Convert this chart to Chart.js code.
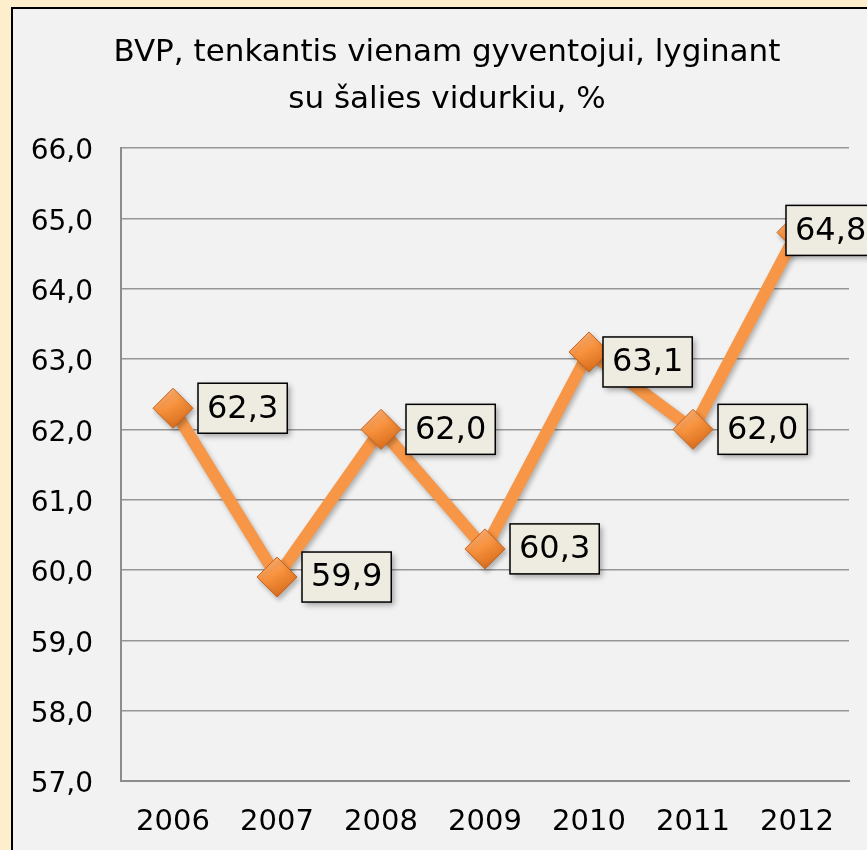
<!DOCTYPE html>
<html><head><meta charset="utf-8">
<script src="https://cdn.jsdelivr.net/npm/chart.js@4.4.1/dist/chart.umd.min.js"></script>
<style>
html,body{margin:0;padding:0;background:#FDEFCC;overflow:hidden;width:867px;height:850px;}
#frame{position:absolute;left:11px;top:7px;width:900px;height:860px;border:2px solid #000;background:#F2F2F2;}
#wrap{position:relative;width:900px;height:841px;}
</style></head><body>
<div id="frame"><div id="wrap"><canvas id="c"></canvas></div></div>
<script>
const titleLines = ['BVP, tenkantis vienam gyventojui, lyginant', 'su šalies vidurkiu, %'];
const years = ['2006', '2007', '2008', '2009', '2010', '2011', '2012'];
const values = [62.3, 59.9, 62.0, 60.3, 63.1, 62.0, 64.8];
const yTickLabels = ['57,0', '58,0', '59,0', '60,0', '61,0', '62,0', '63,0', '64,0', '65,0', '66,0'];
const yMin = 57, yMax = 66;
// label placement relative to its point (style only)
const labelDx = [25, 25, 25, 25, 14, 25, -11];
const labelDy = [0, 0, 0, 0, 10, 0, -2];

const FONT = "'DejaVu Sans', sans-serif";

const fmt = v => v.toFixed(1).replace('.', ',');

const titlePlugin = {
  id: 'twoLineTitle',
  afterDraw(chart) {
    const ctx = chart.ctx;
    ctx.save();
    ctx.font = "31px " + FONT;
    ctx.fillStyle = '#000';
    ctx.textAlign = 'center';
    ctx.textBaseline = 'middle';
    const cx = 434;
    titleLines.forEach((t, i) => ctx.fillText(t, cx, 44 + i * 47));
    ctx.restore();
  }
};

const shadowPlugin = {
  id: 'shadows',
  beforeDatasetsDraw(chart) {
    const ctx = chart.ctx;
    ctx.save();
    ctx.shadowColor = 'rgba(0,0,0,0.28)';
    ctx.shadowBlur = 5;
    ctx.shadowOffsetX = 2;
    ctx.shadowOffsetY = 3;
  },
  afterDatasetsDraw(chart) {
    chart.ctx.restore();
  }
};

const labelPlugin = {
  id: 'boxLabels',
  afterDatasetsDraw(chart) {
    const ctx = chart.ctx;
    const meta = chart.getDatasetMeta(0);
    ctx.save();
    ctx.font = "32px " + FONT;
    ctx.textBaseline = 'middle';
    ctx.textAlign = 'center';
    meta.data.forEach((pt, i) => {
      const txt = fmt(values[i]);
      const tw = ctx.measureText(txt).width;
      const w = tw + 18, h = 50;
      const left = pt.x + labelDx[i];
      const cy = pt.y + labelDy[i];
      const top = cy - h / 2;
      ctx.save();
      ctx.shadowColor = 'rgba(0,0,0,0.35)';
      ctx.shadowBlur = 6;
      ctx.shadowOffsetX = 3;
      ctx.shadowOffsetY = 3;
      ctx.fillStyle = '#EEECE1';
      ctx.fillRect(left, top, w, h);
      ctx.restore();
      ctx.lineWidth = 1.5;
      ctx.strokeStyle = '#000';
      ctx.strokeRect(left, top, w, h);
      ctx.fillStyle = '#000';
      ctx.fillText(txt, left + w / 2, cy + 1);
    });
    ctx.restore();
  }
};

function pointGrad(c) {
  const chart = c.chart;
  if (!chart.chartArea || c.parsed === undefined) return '#F79646';
  const x = chart.scales.x.getPixelForValue(c.dataIndex);
  const y = chart.scales.y.getPixelForValue(c.parsed.y);
  const g = chart.ctx.createLinearGradient(x - 12, y - 19, x + 8, y + 19);
  g.addColorStop(0, '#FBB47C');
  g.addColorStop(0.45, '#F8923E');
  g.addColorStop(1, '#D46A1A');
  return g;
}

new Chart(document.getElementById('c'), {
  type: 'line',
  data: {
    labels: years,
    datasets: [{
      data: values,
      borderColor: '#F79646',
      borderWidth: 12,
      tension: 0,
      pointStyle: 'rectRot',
      pointRadius: 20,
      pointHoverRadius: 20,
      pointBackgroundColor: pointGrad,
      pointBorderColor: '#C8621C',
      pointBorderWidth: 1
    }]
  },
  plugins: [titlePlugin, shadowPlugin, labelPlugin],
  options: {
    responsive: true,
    maintainAspectRatio: false,
    animation: false,
    layout: { padding: { left: 0, right: 64, top: 139, bottom: 0 } },
    plugins: {
      legend: { display: false },
      tooltip: { enabled: false },
      title: { display: false }
    },
    scales: {
      x: {
        offset: true,
        grid: { display: false, drawTicks: false },
        border: { display: true, color: '#8C8C8C', width: 2 },
        ticks: { color: '#000', font: { family: FONT, size: 29 }, padding: 24, maxRotation: 0, autoSkip: false },
        afterFit(s) { s.height = 69; }
      },
      y: {
        min: yMin, max: yMax,
        grid: { color: '#969696', lineWidth: 1.5, drawTicks: false },
        border: { display: true, color: '#8C8C8C', width: 2 },
        ticks: {
          stepSize: 1,
          color: '#000',
          font: { family: FONT, size: 28 },
          padding: 28,
          labelOffset: 4,
          callback: (v) => yTickLabels[Math.round(v - yMin)]
        },
        afterFit(s) { s.width = 108; }
      }
    }
  }
});
</script>
</body></html>
